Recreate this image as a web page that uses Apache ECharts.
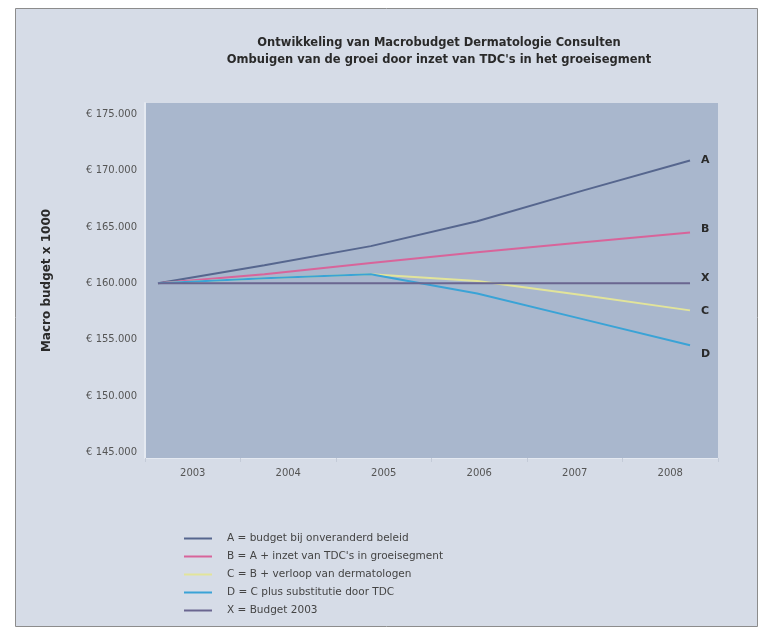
<!DOCTYPE html>
<html>
<head>
<meta charset="utf-8">
<script src="https://cdn.jsdelivr.net/npm/echarts@6/dist/echarts.min.js"></script>
<style>html,body{margin:0;padding:0;background:#fff;}#chart{width:771px;height:635px;}</style>
</head>
<body>
<div id="chart"></div>
<script>
const years = [2003, 2004, 2005, 2006, 2007, 2008];
const categories = ['2003', '2004', '2005', '2006', '2007', '2008'];
const seriesA = [160000, 161600, 163300, 165500, 168250, 170900];
const seriesB = [160000, 160800, 161800, 162750, 163650, 164500];
const seriesC = [160000, 160450, 160800, 160200, 158950, 157600];
const seriesD = [160000, 160450, 160800, 159100, 156800, 154500];
const seriesX = [160000, 160000, 160000, 160000, 160000, 160000];
const yTicks = [145000, 150000, 155000, 160000, 165000, 170000, 175000];
const legendNames = [
  'A = budget bij onveranderd beleid',
  "B = A + inzet van TDC's in groeisegment",
  'C = B + verloop van dermatologen',
  'D = C plus substitutie door TDC',
  'X = Budget 2003'
];
const letters = ['A', 'B', 'C', 'D', 'X'];
const colors = ['#56668e', '#d8649a', '#e2e49a', '#3aa3d6', '#6a6690'];
const labelOffsets = [[0, 0], [0, -3], [0, 1], [0, 9], [0, -5]];
const allSeries = [seriesA, seriesB, seriesC, seriesD, seriesX];

function fmt(v) {
  return '€ ' + String(v).replace(/\B(?=(\d{3})+(?!\d))/g, '.');
}

const chart = echarts.init(document.getElementById('chart'));
chart.setOption({
  backgroundColor: '#ffffff',
  animation: false,
  textStyle: { fontFamily: 'DejaVu Sans, Verdana, sans-serif' },
  graphic: [{
    type: 'rect', z: -100,
    shape: { x: 15.5, y: 8.5, width: 742, height: 618 },
    style: { fill: '#d6dce7', stroke: '#8c8c8c', lineWidth: 1 }
  }],
  title: {
    text: 'Ontwikkeling van Macrobudget Dermatologie Consulten\nOmbuigen van de groei door inzet van TDC\'s in het groeisegment',
    left: 434, top: 30, textAlign: 'center',
    textStyle: { fontSize: 11.5, fontWeight: 'bold', color: '#2a2a2a', lineHeight: 17, fontFamily: 'DejaVu Sans, sans-serif' }
  },
  legend: {
    orient: 'vertical', left: 179, top: 528,
    icon: 'rect', itemWidth: 28, itemHeight: 2, itemGap: 7,
    data: legendNames,
    textStyle: { fontSize: 10.5, color: '#444', padding: [0, 0, 0, 10], fontFamily: 'DejaVu Sans, sans-serif' }
  },
  grid: {
    left: 145, right: 53, top: 103, bottom: 177,
    show: true, backgroundColor: '#a9b7cd', borderWidth: 0
  },
  xAxis: [{
    type: 'category', data: categories, boundaryGap: true,
    axisLine: { lineStyle: { color: '#e4e9f1', width: 1 } },
    axisTick: { show: true, lineStyle: { color: '#c4cbd8' }, length: 4 },
    axisLabel: { fontSize: 10, color: '#555', margin: 10 }
  }, {
    type: 'value', min: 2002.878, max: 2008.263, show: false
  }],
  yAxis: {
    type: 'value', min: 144500, max: 176000,
    name: 'Macro budget x 1000', nameLocation: 'middle', nameGap: 92,
    nameTextStyle: { fontSize: 12, fontWeight: 'bold', color: '#2a2a2a' },
    axisLine: { show: true, lineStyle: { color: '#e4e9f1', width: 2 } },
    axisTick: { show: false },
    splitLine: { show: false },
    axisLabel: { customValues: yTicks, formatter: fmt, fontSize: 10, color: '#555', margin: 8 }
  },
  series: allSeries.map((vals, i) => ({
    name: legendNames[i], type: 'line', xAxisIndex: 1,
    data: years.map((y, j) => [y, vals[j]]),
    symbol: 'none', showSymbol: false,
    lineStyle: { color: colors[i], width: 2 },
    itemStyle: { color: colors[i] },
    endLabel: {
      show: true, formatter: letters[i], distance: 11,
      offset: labelOffsets[i],
      fontSize: 11, fontWeight: 'bold', color: '#2a2a2a'
    }
  }))
});
</script>
</body>
</html>
